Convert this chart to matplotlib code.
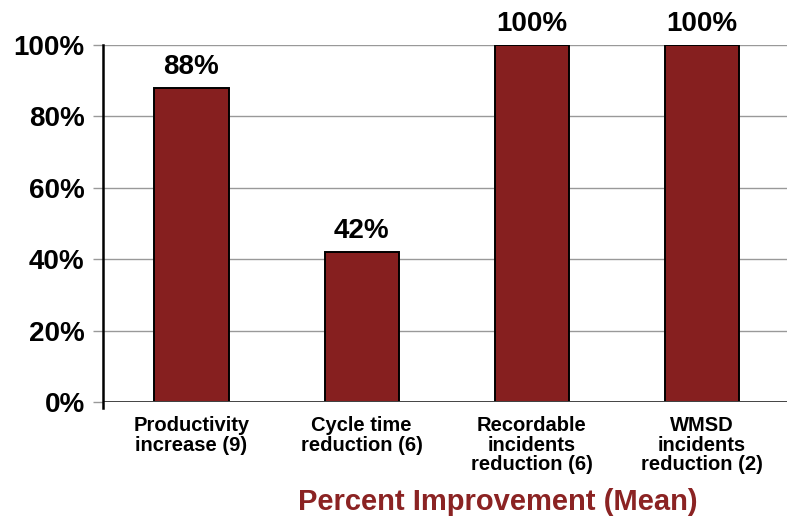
import matplotlib
matplotlib.use("Agg")
import matplotlib.pyplot as plt
from matplotlib.ticker import FuncFormatter

categories = ["Productivity\nincrease (9)", "Cycle time\nreduction (6)",
              "Recordable\nincidents\nreduction (6)", "WMSD\nincidents\nreduction (2)"]
values = [88, 42, 100, 100]
yticks = [0, 20, 40, 60, 80, 100]

plt.rcParams['font.family'] = ['Liberation Sans', 'DejaVu Sans']
plt.rcParams['font.weight'] = 'bold'

fig = plt.figure(figsize=(7.87, 5.2), dpi=100)
ax = fig.add_axes([0.1309, 0.2269, 0.8691, 0.6866])

x = list(range(len(values)))
bars = ax.bar(x, values, width=0.435, color="#861F1F", edgecolor="black",
              linewidth=1.4, zorder=3)

for b, v in zip(bars, values):
  ax.text(b.get_x() + b.get_width() / 2, v + 2.2, "%d%%" % v, ha="center",
          va="bottom", fontsize=20, fontweight="bold", clip_on=False)

ax.set_xlim(-0.52, 3.5)
ax.set_ylim(0, 100)
ax.set_yticks(yticks)
ax.yaxis.set_major_formatter(FuncFormatter(lambda v, p: "%d%%" % v))
ax.tick_params(axis="y", length=7.2, width=1, color="#999999", pad=6,
               labelsize=20)
ax.set_xticks(x)
ax.set_xticklabels(categories, fontsize=14.5, fontweight="bold", linespacing=1.05)
ax.tick_params(axis="x", length=0, pad=10)

ax.grid(axis="y", color="#999999", linewidth=1, zorder=0)
ax.axhline(0, color="#444444", linewidth=1.4, zorder=4)

for s in ["top", "right", "bottom"]:
  ax.spines[s].set_visible(False)
ax.spines["left"].set_linewidth(1.8)
ax.spines["left"].set_bounds(-1.7, 100)
ax.spines["left"].set_zorder(5)

fig.text(0.633, 0.035, "Percent Improvement (Mean)", ha="center", va="center",
         fontsize=21, fontweight="bold", color="#8B2323")

fig.savefig("out.png", dpi=100, facecolor="white")
